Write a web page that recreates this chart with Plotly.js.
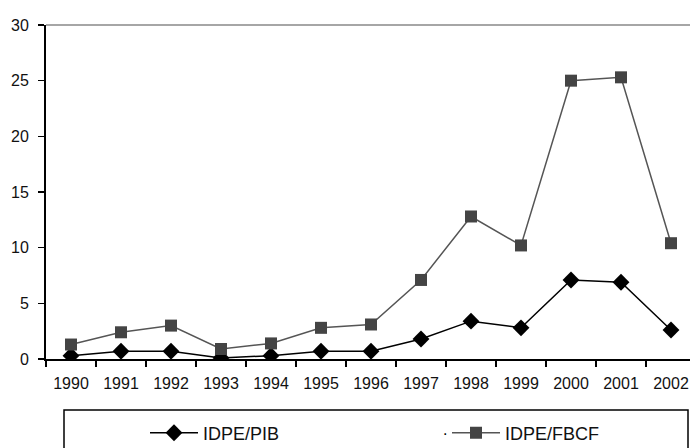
<!DOCTYPE html>
<html><head><meta charset="utf-8">
<script src="https://cdn.plot.ly/plotly-3.0.1.min.js"></script>
<style>body{margin:0;background:#fff}#c{width:690px;height:448px}</style>
</head><body><div id="c"></div>
<script>
const years = ["1990","1991","1992","1993","1994","1995","1996","1997","1998","1999","2000","2001","2002"];
const idpePib = [0.3,0.7,0.7,0.1,0.3,0.7,0.7,1.8,3.4,2.8,7.1,6.9,2.6];
const idpeFbcf = [1.3,2.4,3.0,0.9,1.4,2.8,3.1,7.1,12.8,10.2,25.0,25.3,10.4];
const yTicks = [0,5,10,15,20,25,30];

const F = "Liberation Sans, Arial, sans-serif";
const traces = [
  {x: years, y: idpePib, name: "IDPE/PIB", type: "scatter", mode: "lines+markers", legend: "legend",
   line: {color: "#000", width: 1.5}, marker: {symbol: "diamond", size: 13, color: "#000"}},
  {x: years, y: idpeFbcf, name: "IDPE/FBCF", type: "scatter", mode: "lines+markers", legend: "legend2",
   line: {color: "#555", width: 1.5}, marker: {symbol: "square", size: 12, color: "#444"}}
];
const legBase = {orientation: "h", yanchor: "middle", xanchor: "left", bgcolor: "rgba(0,0,0,0)",
  itemwidth: 48, font: {family: F, size: 18, color: "#111"}};
const layout = {
  width: 690, height: 448,
  margin: {l: 46, r: 0, t: 25, b: 89, autoexpand: false},
  paper_bgcolor: "#fff", plot_bgcolor: "#fff",
  showlegend: true,
  font: {family: F, size: 16, color: "#111"},
  xaxis: {type: "category", range: [-0.5, 12.38], tickson: "boundaries",
    ticks: "outside", ticklen: 6, tickcolor: "#000", tickwidth: 1.5,
    showline: true, linecolor: "#000", linewidth: 2, showgrid: false, zeroline: false,
    ticklabelstandoff: 9,
    tickfont: {family: F, size: 16, color: "#111"}, fixedrange: true},
  yaxis: {range: [0, 30], tickvals: yTicks, ticktext: yTicks.map(String),
    ticks: "outside", ticklen: 6, tickcolor: "#000", tickwidth: 1.5,
    showline: true, linecolor: "#000", linewidth: 2, showgrid: false, zeroline: false,
    ticklabelstandoff: 6,
    tickfont: {family: F, size: 16, color: "#111"}, fixedrange: true},
  legend: Object.assign({}, legBase, {x: (145-46)/644, y: (359-433)/334}),
  legend2: Object.assign({}, legBase, {x: (447-46)/644, y: (359-433)/334}),
  shapes: [
    {type: "line", xref: "paper", yref: "paper", x0: 0, x1: 1.01, y0: 1, y1: 1,
     line: {color: "#888", width: 1.5}},
    {type: "rect", xref: "paper", yref: "paper",
     x0: (64-46)/644, x1: (688-46)/644, y0: (359-410)/334, y1: (359-460)/334,
     line: {color: "#000", width: 1.5}, fillcolor: "rgba(0,0,0,0)"}
  ],
  annotations: [
    {text: ".", xref: "paper", yref: "paper", x: (445-46)/644, y: (359-440)/334,
     showarrow: false, font: {family: F, size: 16, color: "#000"}}
  ]
};
Plotly.newPlot("c", traces, layout, {displayModeBar: false, staticPlot: true});
</script></body></html>
